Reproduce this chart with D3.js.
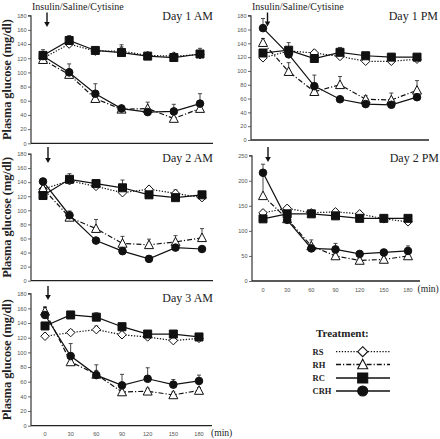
<!DOCTYPE html>
<html><head><meta charset="utf-8">
<script src="https://cdn.jsdelivr.net/npm/d3@7"></script>
<style>
html,body{margin:0;padding:0;background:#fff;}
svg{display:block;}
</style></head>
<body>
<svg id="chart" width="440" height="439"></svg>
<script>
// ---------- DATA ----------
const times = [0, 30, 60, 90, 120, 150, 180];
const series = ["RS", "RH", "RC", "CRH"];
const panelTitles = ["Day 1 AM", "Day 1 PM", "Day 2 AM", "Day 2 PM", "Day 3 AM"];
const ticks180 = [0, 20, 40, 60, 80, 100, 120, 140, 160, 180];
const ticks250 = [0, 50, 100, 150, 200, 250];
const xTickLabels = ["0", "30", "60", "90", "120", "150", "180"];

// Day 1 AM
const d1amRS  = [120, 140, 130, 130, 124, 123, 125];
const d1amRH  = [118, 97, 63, 48, 49, 35, 49];
const d1amRC  = [124, 145, 131, 128, 123, 121, 126];
const d1amCRH = [123, 100, 70, 49, 44, 45, 56];
const d1amRSerr  = [6, 6, 4, 6, 4, 4, 5];
const d1amRHerr  = [6, 8, 8, 5, 9, 6, 8];
const d1amRCerr  = [8, 7, 4, 11, 4, 6, 8];
const d1amCRHerr = [6, 12, 14, 5, 4, 10, 14];
// Day 1 PM
const d1pmRS  = [119, 129, 126, 121, 114, 114, 117];
const d1pmRH  = [141, 99, 70, 80, 59, 58, 72];
const d1pmRC  = [126, 130, 118, 127, 122, 120, 120];
const d1pmCRH = [162, 124, 78, 59, 52, 51, 62];
const d1pmRSerr  = [4, 4, 4, 4, 4, 4, 4];
const d1pmRHerr  = [6, 13, 6, 12, 5, 10, 14];
const d1pmRCerr  = [4, 11, 4, 7, 4, 5, 4];
const d1pmCRHerr = [14, 8, 16, 4, 4, 4, 4];
// Day 2 AM
const d2amRS  = [130, 142, 134, 125, 130, 124, 118];
const d2amRH  = [131, 90, 74, 53, 51, 55, 61];
const d2amRC  = [121, 144, 138, 132, 122, 118, 122];
const d2amCRH = [141, 93, 57, 42, 31, 47, 45];
const d2amRSerr  = [4, 4, 4, 4, 4, 5, 4];
const d2amRHerr  = [4, 6, 13, 10, 8, 9, 13];
const d2amRCerr  = [4, 8, 4, 11, 4, 4, 4];
const d2amCRHerr = [4, 6, 3, 3, 3, 3, 3];
// Day 2 PM
const d2pmRS  = [136, 145, 136, 138, 134, 124, 118];
const d2pmRH  = [170, 124, 70, 50, 41, 43, 50];
const d2pmRC  = [124, 134, 134, 130, 125, 125, 125];
const d2pmCRH = [216, 122, 65, 63, 54, 57, 60];
const d2pmRSerr  = [5, 5, 5, 5, 5, 5, 5];
const d2pmRHerr  = [45, 6, 12, 5, 4, 5, 5];
const d2pmRCerr  = [4, 4, 4, 4, 4, 4, 4];
const d2pmCRHerr = [17, 5, 5, 12, 6, 5, 10];
// Day 3 AM
const d3amRS  = [122, 127, 131, 124, 121, 116, 119];
const d3amRH  = [156, 87, 70, 46, 47, 42, 48];
const d3amRC  = [136, 151, 148, 135, 125, 125, 121];
const d3amCRH = [151, 95, 69, 55, 64, 56, 61];
const d3amRSerr  = [4, 4, 5, 4, 4, 4, 4];
const d3amRHerr  = [5, 6, 5, 4, 4, 4, 4];
const d3amRCerr  = [4, 4, 6, 4, 4, 4, 4];
const d3amCRHerr = [11, 17, 14, 15, 15, 7, 8];

const panelValues = [
  [d1amRS, d1amRH, d1amRC, d1amCRH],
  [d1pmRS, d1pmRH, d1pmRC, d1pmCRH],
  [d2amRS, d2amRH, d2amRC, d2amCRH],
  [d2pmRS, d2pmRH, d2pmRC, d2pmCRH],
  [d3amRS, d3amRH, d3amRC, d3amCRH]
];
const panelErrors = [
  [d1amRSerr, d1amRHerr, d1amRCerr, d1amCRHerr],
  [d1pmRSerr, d1pmRHerr, d1pmRCerr, d1pmCRHerr],
  [d2amRSerr, d2amRHerr, d2amRCerr, d2amCRHerr],
  [d2pmRSerr, d2pmRHerr, d2pmRCerr, d2pmCRHerr],
  [d3amRSerr, d3amRHerr, d3amRCerr, d3amCRHerr]
];

// ---------- LAYOUT ----------
const layout = [
  {ax: 31,  x0: 43,  x180: 200, xEnd: 213, yb: 143.3, yt: 15.7,  ymax: 180, ticks: ticks180, ylabel: true,  xlabels: false, insulin: true,  arrowX: 47,  arrowY: [12.5, 27],  titleX: 213, titleY: 19.5},
  {ax: 251, x0: 263, x180: 417, xEnd: 429, yb: 140,   yt: 15.7,  ymax: 180, ticks: ticks180, ylabel: false, xlabels: false, insulin: true,  arrowX: 267.5, arrowY: [12.5, 26.5], titleX: 438, titleY: 19.5},
  {ax: 31,  x0: 43,  x180: 202, xEnd: 213, yb: 280.7, yt: 154,   ymax: 180, ticks: ticks180, ylabel: true,  xlabels: false, insulin: false, arrowX: 48,  arrowY: [147, 163], titleX: 213, titleY: 162},
  {ax: 252, x0: 263, x180: 408, xEnd: 420, yb: 281,   yt: 155.7, ymax: 250, ticks: ticks250, ylabel: false, xlabels: true,  insulin: false, arrowX: 268, arrowY: [147, 162], titleX: 439, titleY: 162, minX: 417.5},
  {ax: 31,  x0: 45,  x180: 199, xEnd: 212, yb: 425.7, yt: 293.7, ymax: 180, ticks: ticks180, ylabel: true,  xlabels: true,  insulin: false, arrowX: 48,  arrowY: [286, 300], titleX: 213, titleY: 302, minX: 211}
];

const styles = {
  RS:  {dash: "1.3,1.6", marker: "diamond",  fill: "#fff"},
  RH:  {dash: "5,2,1.2,2", marker: "triangle", fill: "#fff"},
  RC:  {dash: null, marker: "square",   fill: "#111"},
  CRH: {dash: null, marker: "circle",   fill: "#111"}
};

function markerPath(type, s) {
  const h = s / 2;
  if (type === "square") return `M${-h},${-h}H${h}V${h}H${-h}Z`;
  if (type === "diamond") return `M0,${-h}L${h},0L0,${h}L${-h},0Z`;
  if (type === "triangle") return `M0,${-h*1.05}L${h},${h*0.85}L${-h},${h*0.85}Z`;
  return d3.arc()({innerRadius: 0, outerRadius: h, startAngle: 0, endAngle: 2 * Math.PI});
}
const markerSize = {square: 8, diamond: 8.5, triangle: 9, circle: 7.6};

const svg = d3.select("#chart");
const serif = "Liberation Serif, Times New Roman, serif";
const sans = "Liberation Sans, Arial, sans-serif";

layout.forEach((L, pi) => {
  const x = d3.scaleLinear().domain([0, 180]).range([L.x0, L.x180]);
  const y = d3.scaleLinear().domain([0, L.ymax]).range([L.yb, L.yt]);
  const g = svg.append("g");

  // y axis
  const yAxis = d3.axisLeft(y).tickValues(L.ticks).tickSize(3).tickPadding(1.5);
  const ya = g.append("g").attr("transform", `translate(${L.ax},0)`).call(yAxis);
  ya.select(".domain").attr("d", `M-3,${L.yt}H0V${L.yb}`).attr("stroke", "#222").attr("stroke-width", 1.1);
  ya.selectAll(".tick line").attr("stroke", "#444").attr("stroke-width", 0.8);
  ya.selectAll(".tick text").attr("font-family", sans).attr("font-size", 5.6).attr("fill", "#555");

  // x axis line
  g.append("line").attr("x1", L.ax).attr("x2", L.xEnd).attr("y1", L.yb).attr("y2", L.yb)
    .attr("stroke", "#222").attr("stroke-width", 1.3);

  if (L.xlabels) {
    g.selectAll(".xl").data(times).enter().append("text")
      .attr("x", (d) => x(d)).attr("y", L.yb + 10.5)
      .attr("text-anchor", "middle").attr("font-family", sans).attr("font-size", 5.6).attr("fill", "#555")
      .text((d, i) => xTickLabels[i]);
    g.append("text").attr("x", L.minX).attr("y", L.yb + 10.5)
      .attr("font-family", serif).attr("font-size", 9.6).attr("fill", "#222").text("(min)");
  }

  // title
  g.append("text").attr("x", L.titleX).attr("y", L.titleY).attr("text-anchor", "end")
    .attr("font-family", serif).attr("font-size", 12).attr("fill", "#222").text(panelTitles[pi]);

  if (L.insulin) {
    g.append("text").attr("x", L.ax + 1).attr("y", 10)
      .attr("font-family", serif).attr("font-size", 10).attr("fill", "#222").text("Insulin/Saline/Cytisine");
  }
  // arrow
  g.append("line").attr("x1", L.arrowX).attr("x2", L.arrowX).attr("y1", L.arrowY[0]).attr("y2", L.arrowY[1] - 4)
    .attr("stroke", "#111").attr("stroke-width", 1.4);
  g.append("path").attr("d", `M${L.arrowX - 2.8},${L.arrowY[1] - 5}L${L.arrowX + 2.8},${L.arrowY[1] - 5}L${L.arrowX},${L.arrowY[1]}Z`)
    .attr("fill", "#111");

  if (L.ylabel) {
    const cy = (L.yt + L.yb) / 2;
    g.append("text").attr("transform", `translate(11,${cy}) rotate(-90)`)
      .attr("text-anchor", "middle").attr("font-family", serif).attr("font-weight", "bold")
      .attr("font-size", 12.3).attr("fill", "#222").text("Plasma glucose (mg/dl)");
  }

  const vals = panelValues[pi], errs = panelErrors[pi];
  // error bars
  series.forEach((s, si) => {
    vals[si].forEach((v, i) => {
      const e = errs[si][i];
      const cx = x(times[i]);
      g.append("line").attr("x1", cx).attr("x2", cx).attr("y1", y(v)).attr("y2", y(v + e))
        .attr("stroke", "#333").attr("stroke-width", 0.9);
      g.append("line").attr("x1", cx - 2).attr("x2", cx + 2).attr("y1", y(v + e)).attr("y2", y(v + e))
        .attr("stroke", "#333").attr("stroke-width", 0.9);
    });
  });
  // lines
  const lineGen = d3.line().x((d, i) => x(times[i])).y((d) => y(d));
  series.forEach((s, si) => {
    g.append("path").attr("d", lineGen(vals[si])).attr("fill", "none")
      .attr("stroke", "#111").attr("stroke-width", 1.2)
      .attr("stroke-dasharray", styles[s].dash);
  });
  // markers
  series.forEach((s, si) => {
    const st = styles[s];
    g.selectAll(null).data(vals[si]).enter().append("path")
      .attr("transform", (d, i) => `translate(${x(times[i])},${y(d)})`)
      .attr("d", markerPath(st.marker, markerSize[st.marker]))
      .attr("fill", st.fill).attr("stroke", "#111").attr("stroke-width", 1);
  });
});

// ---------- LEGEND ----------
const lg = svg.append("g");
lg.append("text").attr("x", 316).attr("y", 337).attr("font-family", serif).attr("font-weight", "bold")
  .attr("font-size", 11).attr("fill", "#222").text("Treatment:");
const legendY = [351.7, 364.5, 378, 391];
series.forEach((s, i) => {
  const st = styles[s];
  const yy = legendY[i];
  lg.append("text").attr("x", 312.5).attr("y", yy + 3).attr("font-family", serif).attr("font-weight", "bold")
    .attr("font-size", 8.5).attr("fill", "#222").text(s);
  lg.append("line").attr("x1", 336).attr("x2", 390).attr("y1", yy).attr("y2", yy)
    .attr("stroke", "#111").attr("stroke-width", 1.3).attr("stroke-dasharray", st.dash);
  lg.append("path").attr("transform", `translate(362.7,${yy})`)
    .attr("d", markerPath(st.marker, 10)).attr("fill", st.fill).attr("stroke", "#111").attr("stroke-width", 1.1);
});
</script>
</body></html>
